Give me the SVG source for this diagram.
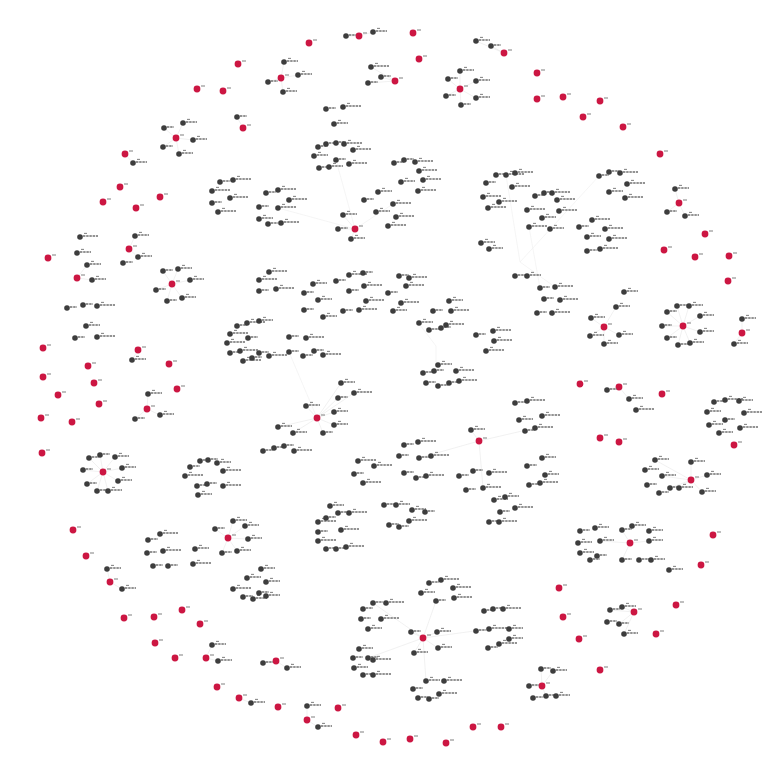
<svg xmlns="http://www.w3.org/2000/svg" xmlns:xlink="http://www.w3.org/1999/xlink" width="768" height="774" viewBox="0 0 768 774">
<style>
.e{stroke:#e8e8e8;stroke-width:0.6;fill:none}
.ef{stroke:#efefef;stroke-width:0.6;fill:none}
.gd{fill:#3c3c3c}
.rd{fill:#cc1443}
.lb{stroke:#707070;stroke-width:1.6;stroke-dasharray:2.4 0.8;fill:none}
.lr{stroke:#8a8a8a;stroke-width:1.1;fill:none}
</style>
<defs>
<filter id="soft" x="-5%" y="-5%" width="110%" height="110%"><feGaussianBlur stdDeviation="0.55"/></filter>
<g id="G1"><circle class="gd" r="2.8"/><path class="lb" d="M3 -1h15"/><path class="lr" d="M4 -3.6h3"/></g>
<g id="G2"><circle class="gd" r="2.8"/><path class="lb" d="M3 -1h11"/><path class="lr" d="M4 -3.6h3"/></g>
<g id="G3"><circle class="gd" r="2.8"/><path class="lb" d="M3 -1h7"/></g>
<g id="R"><circle class="rd" r="3.4"/><path class="lr" d="M4 -3h4"/></g>
</defs>
<rect width="768" height="774" fill="#ffffff"/>
<g filter="url(#soft)">
<g id="connectors">
<path class="e" d="M176 138L164 128M176 138L183 123M176 138L193 140M176 138L163 147M176 138L179 154"/>
<path class="e" d="M460 89L448 79M460 89L460 71M460 89L476 81M460 89L446 96M460 89L476 98M460 89L461 105"/>
<path class="e" d="M281 78L284 62M281 78L298 75M281 78L268 82M281 78L283 92M395 81L371 67M395 81L368 83M395 81L381 77M359 36L346 36M359 36L373 32"/>
<path class="e" d="M355 229L343 215M355 229L338 229M355 229L351 239M504 53L476 41M504 53L491 46M679 203L675 189M679 203L667 212M679 203L685 216"/>
<path class="e" d="M172 284L163 271M172 284L178 269M172 284L190 280M172 284L156 290M172 284L167 301M172 284L182 298M77 278L92 280M77 278L87 265"/>
<path class="e" d="M103 472L89 458M103 472L100 455M103 472L115 457M103 472L83 470M103 472L122 468M103 472L87 484M103 472L118 481M103 472L97 491M103 472L108 491"/>
<path class="e" d="M147 409L148 394M147 409L160 415M147 409L135 419M138 350L132 360"/>
<path class="e" d="M317 418L341 383M317 418L338 398M317 418L354 393M317 418L306 406M317 418L334 412M317 418L334 425M317 418L323 433M317 418L293 433M317 418L278 427"/>
<path class="e" d="M479 441L471 430M479 441L419 458M479 441L483 488M479 441L535 428"/>
<path class="e" d="M604 327L591 318M604 327L590 336M604 327L619 335M604 327L604 344M604 327L616 307"/>
<path class="e" d="M683 326L667 312M683 326L677 306M683 326L689 306M683 326L700 316M683 326L662 326M683 326L700 332M683 326L667 338M683 326L678 345M683 326L690 343M742 333L742 319M742 333L734 344"/>
<path class="e" d="M619 387L607 390M619 387L629 399M691 480L655 460M691 480L691 462M691 480L707 475M691 480L702 492M691 480L679 488M691 480L670 488M691 480L662 476"/>
<path class="e" d="M228 538L215 529M228 538L233 521M228 538L245 526M228 538L222 553M228 538L237 551M228 538L248 539M110 582L107 569M110 582L122 589"/>
<path class="e" d="M206 658L212 645M206 658L218 661M239 698L251 703M276 661L263 663M276 661L287 668M307 720L307 706M307 720L318 727"/>
<path class="e" d="M423 638L411 632M423 638L437 632M423 638L414 653M423 638L438 648M423 638L373 603M423 638L368 658M423 638L436 601M423 638L489 629M423 638L426 681"/>
<path class="e" d="M630 543L600 541M630 543L622 530M630 543L649 541M630 543L622 560M634 612L610 610M634 612L622 607M634 612L619 624M634 612L624 634M542 686L541 669M542 686L553 671M542 686L529 686M542 686L546 696"/>
<path class="e" d="M243 128L237 117M129 249L135 236M129 249L138 257M125 154L133 163"/>
<path class="ef" d="M355 229L336 160M355 229L393 204M355 229L278 208M436 346L436 365M529 227L540 288M506 175L520 262M520 262L599 176M520 262L555 287M420 325L436 346M317 418L289 352"/>
</g>
<g id="hubs">
<g id="r1" transform="translate(238 64)"><use href="#R"/></g>
<g id="r2" transform="translate(197 89)"><use href="#R"/></g>
<g id="r3" transform="translate(223 91)"><use href="#R"/></g>
<g id="r4" transform="translate(243 128)"><use href="#R"/></g>
<g id="r5" transform="translate(176 138)"><use href="#R"/></g>
<g id="r6" transform="translate(125 154)"><use href="#R"/></g>
<g id="r7" transform="translate(120 187)"><use href="#R"/></g>
<g id="r8" transform="translate(103 202)"><use href="#R"/></g>
<g id="r9" transform="translate(136 208)"><use href="#R"/></g>
<g id="r10" transform="translate(160 197)"><use href="#R"/></g>
<g id="r11" transform="translate(129 249)"><use href="#R"/></g>
<g id="r12" transform="translate(48 258)"><use href="#R"/></g>
<g id="r13" transform="translate(309 43)"><use href="#R"/></g>
<g id="r14" transform="translate(359 36)"><use href="#R"/></g>
<g id="r15" transform="translate(413 33)"><use href="#R"/></g>
<g id="r16" transform="translate(419 59)"><use href="#R"/></g>
<g id="r17" transform="translate(395 81)"><use href="#R"/></g>
<g id="r18" transform="translate(281 78)"><use href="#R"/></g>
<g id="r19" transform="translate(504 53)"><use href="#R"/></g>
<g id="r20" transform="translate(460 89)"><use href="#R"/></g>
<g id="r21" transform="translate(355 229)"><use href="#R"/></g>
<g id="r22" transform="translate(537 73)"><use href="#R"/></g>
<g id="r23" transform="translate(537 99)"><use href="#R"/></g>
<g id="r24" transform="translate(563 97)"><use href="#R"/></g>
<g id="r25" transform="translate(600 101)"><use href="#R"/></g>
<g id="r26" transform="translate(583 117)"><use href="#R"/></g>
<g id="r27" transform="translate(623 127)"><use href="#R"/></g>
<g id="r28" transform="translate(660 154)"><use href="#R"/></g>
<g id="r29" transform="translate(679 203)"><use href="#R"/></g>
<g id="r30" transform="translate(705 234)"><use href="#R"/></g>
<g id="r31" transform="translate(664 250)"><use href="#R"/></g>
<g id="r32" transform="translate(695 257)"><use href="#R"/></g>
<g id="r33" transform="translate(729 256)"><use href="#R"/></g>
<g id="r34" transform="translate(77 278)"><use href="#R"/></g>
<g id="r35" transform="translate(172 284)"><use href="#R"/></g>
<g id="r36" transform="translate(43 348)"><use href="#R"/></g>
<g id="r37" transform="translate(138 350)"><use href="#R"/></g>
<g id="r38" transform="translate(88 366)"><use href="#R"/></g>
<g id="r39" transform="translate(169 364)"><use href="#R"/></g>
<g id="r40" transform="translate(43 377)"><use href="#R"/></g>
<g id="r41" transform="translate(94 383)"><use href="#R"/></g>
<g id="r42" transform="translate(177 389)"><use href="#R"/></g>
<g id="r43" transform="translate(58 395)"><use href="#R"/></g>
<g id="r44" transform="translate(99 404)"><use href="#R"/></g>
<g id="r45" transform="translate(147 409)"><use href="#R"/></g>
<g id="r46" transform="translate(41 418)"><use href="#R"/></g>
<g id="r47" transform="translate(72 422)"><use href="#R"/></g>
<g id="r48" transform="translate(42 453)"><use href="#R"/></g>
<g id="r49" transform="translate(103 472)"><use href="#R"/></g>
<g id="r50" transform="translate(317 418)"><use href="#R"/></g>
<g id="r51" transform="translate(479 441)"><use href="#R"/></g>
<g id="r52" transform="translate(728 281)"><use href="#R"/></g>
<g id="r53" transform="translate(604 327)"><use href="#R"/></g>
<g id="r54" transform="translate(683 326)"><use href="#R"/></g>
<g id="r55" transform="translate(742 333)"><use href="#R"/></g>
<g id="r56" transform="translate(580 384)"><use href="#R"/></g>
<g id="r57" transform="translate(619 387)"><use href="#R"/></g>
<g id="r58" transform="translate(662 394)"><use href="#R"/></g>
<g id="r59" transform="translate(600 438)"><use href="#R"/></g>
<g id="r60" transform="translate(619 442)"><use href="#R"/></g>
<g id="r61" transform="translate(734 445)"><use href="#R"/></g>
<g id="r62" transform="translate(691 480)"><use href="#R"/></g>
<g id="r63" transform="translate(73 530)"><use href="#R"/></g>
<g id="r64" transform="translate(86 556)"><use href="#R"/></g>
<g id="r65" transform="translate(110 582)"><use href="#R"/></g>
<g id="r66" transform="translate(124 618)"><use href="#R"/></g>
<g id="r67" transform="translate(154 617)"><use href="#R"/></g>
<g id="r68" transform="translate(182 610)"><use href="#R"/></g>
<g id="r69" transform="translate(200 624)"><use href="#R"/></g>
<g id="r70" transform="translate(155 643)"><use href="#R"/></g>
<g id="r71" transform="translate(175 658)"><use href="#R"/></g>
<g id="r72" transform="translate(206 658)"><use href="#R"/></g>
<g id="r73" transform="translate(217 687)"><use href="#R"/></g>
<g id="r74" transform="translate(239 698)"><use href="#R"/></g>
<g id="r75" transform="translate(228 538)"><use href="#R"/></g>
<g id="r76" transform="translate(276 661)"><use href="#R"/></g>
<g id="r77" transform="translate(423 638)"><use href="#R"/></g>
<g id="r78" transform="translate(278 707)"><use href="#R"/></g>
<g id="r79" transform="translate(307 720)"><use href="#R"/></g>
<g id="r80" transform="translate(338 708)"><use href="#R"/></g>
<g id="r81" transform="translate(356 735)"><use href="#R"/></g>
<g id="r82" transform="translate(383 742)"><use href="#R"/></g>
<g id="r83" transform="translate(410 739)"><use href="#R"/></g>
<g id="r84" transform="translate(446 743)"><use href="#R"/></g>
<g id="r85" transform="translate(473 727)"><use href="#R"/></g>
<g id="r86" transform="translate(501 727)"><use href="#R"/></g>
<g id="r87" transform="translate(559 588)"><use href="#R"/></g>
<g id="r88" transform="translate(563 617)"><use href="#R"/></g>
<g id="r89" transform="translate(579 639)"><use href="#R"/></g>
<g id="r90" transform="translate(634 612)"><use href="#R"/></g>
<g id="r91" transform="translate(656 634)"><use href="#R"/></g>
<g id="r92" transform="translate(676 605)"><use href="#R"/></g>
<g id="r93" transform="translate(701 565)"><use href="#R"/></g>
<g id="r94" transform="translate(713 535)"><use href="#R"/></g>
<g id="r95" transform="translate(630 543)"><use href="#R"/></g>
<g id="r96" transform="translate(600 670)"><use href="#R"/></g>
<g id="r97" transform="translate(542 686)"><use href="#R"/></g>
</g>
<g id="leaves">
<g id="n1" transform="translate(237 117)"><use href="#G3"/></g>
<g id="n2" transform="translate(164 128)"><use href="#G3"/></g>
<g id="n3" transform="translate(183 123)"><use href="#G2"/></g>
<g id="n4" transform="translate(193 140)"><use href="#G2"/></g>
<g id="n5" transform="translate(163 147)"><use href="#G3"/></g>
<g id="n6" transform="translate(179 154)"><use href="#G2"/></g>
<g id="n7" transform="translate(133 163)"><use href="#G2"/></g>
<g id="n8" transform="translate(220 182)"><use href="#G3"/></g>
<g id="n9" transform="translate(233 180)"><use href="#G1"/></g>
<g id="n10" transform="translate(212 191)"><use href="#G1"/></g>
<g id="n11" transform="translate(212 203)"><use href="#G3"/></g>
<g id="n12" transform="translate(230 198)"><use href="#G1"/></g>
<g id="n13" transform="translate(218 212)"><use href="#G1"/></g>
<g id="n14" transform="translate(80 237)"><use href="#G1"/></g>
<g id="n15" transform="translate(135 236)"><use href="#G2"/></g>
<g id="n16" transform="translate(77 253)"><use href="#G2"/></g>
<g id="n17" transform="translate(138 257)"><use href="#G2"/></g>
<g id="n18" transform="translate(346 36)"><use href="#G3"/></g>
<g id="n19" transform="translate(373 32)"><use href="#G2"/></g>
<g id="n20" transform="translate(284 62)"><use href="#G2"/></g>
<g id="n21" transform="translate(298 75)"><use href="#G2"/></g>
<g id="n22" transform="translate(268 82)"><use href="#G3"/></g>
<g id="n23" transform="translate(283 92)"><use href="#G2"/></g>
<g id="n24" transform="translate(371 67)"><use href="#G1"/></g>
<g id="n25" transform="translate(368 83)"><use href="#G3"/></g>
<g id="n26" transform="translate(381 77)"><use href="#G3"/></g>
<g id="n27" transform="translate(476 41)"><use href="#G2"/></g>
<g id="n28" transform="translate(491 46)"><use href="#G3"/></g>
<g id="n29" transform="translate(448 79)"><use href="#G3"/></g>
<g id="n30" transform="translate(460 71)"><use href="#G2"/></g>
<g id="n31" transform="translate(476 81)"><use href="#G2"/></g>
<g id="n32" transform="translate(446 96)"><use href="#G3"/></g>
<g id="n33" transform="translate(476 98)"><use href="#G2"/></g>
<g id="n34" transform="translate(461 105)"><use href="#G3"/></g>
<g id="n35" transform="translate(326 109)"><use href="#G3"/></g>
<g id="n36" transform="translate(343 107)"><use href="#G1"/></g>
<g id="n37" transform="translate(334 124)"><use href="#G2"/></g>
<g id="n38" transform="translate(318 147)"><use href="#G3"/></g>
<g id="n39" transform="translate(326 144)"><use href="#G3"/></g>
<g id="n40" transform="translate(336 143)"><use href="#G3"/></g>
<g id="n41" transform="translate(344 144)"><use href="#G1"/></g>
<g id="n42" transform="translate(353 150)"><use href="#G1"/></g>
<g id="n43" transform="translate(314 156)"><use href="#G2"/></g>
<g id="n44" transform="translate(336 160)"><use href="#G3"/></g>
<g id="n45" transform="translate(319 168)"><use href="#G3"/></g>
<g id="n46" transform="translate(329 167)"><use href="#G2"/></g>
<g id="n47" transform="translate(349 164)"><use href="#G1"/></g>
<g id="n48" transform="translate(394 163)"><use href="#G3"/></g>
<g id="n49" transform="translate(404 160)"><use href="#G3"/></g>
<g id="n50" transform="translate(415 162)"><use href="#G1"/></g>
<g id="n51" transform="translate(419 171)"><use href="#G1"/></g>
<g id="n52" transform="translate(401 182)"><use href="#G2"/></g>
<g id="n53" transform="translate(423 180)"><use href="#G1"/></g>
<g id="n54" transform="translate(418 191)"><use href="#G1"/></g>
<g id="n55" transform="translate(378 192)"><use href="#G2"/></g>
<g id="n56" transform="translate(364 200)"><use href="#G3"/></g>
<g id="n57" transform="translate(393 204)"><use href="#G1"/></g>
<g id="n58" transform="translate(376 212)"><use href="#G2"/></g>
<g id="n59" transform="translate(396 217)"><use href="#G1"/></g>
<g id="n60" transform="translate(388 226)"><use href="#G1"/></g>
<g id="n61" transform="translate(343 215)"><use href="#G2"/></g>
<g id="n62" transform="translate(338 229)"><use href="#G3"/></g>
<g id="n63" transform="translate(351 239)"><use href="#G2"/></g>
<g id="n64" transform="translate(266 193)"><use href="#G3"/></g>
<g id="n65" transform="translate(278 190)"><use href="#G1"/></g>
<g id="n66" transform="translate(289 200)"><use href="#G1"/></g>
<g id="n67" transform="translate(259 207)"><use href="#G3"/></g>
<g id="n68" transform="translate(278 208)"><use href="#G1"/></g>
<g id="n69" transform="translate(259 219)"><use href="#G2"/></g>
<g id="n70" transform="translate(268 224)"><use href="#G3"/></g>
<g id="n71" transform="translate(281 223)"><use href="#G1"/></g>
<g id="n72" transform="translate(486 183)"><use href="#G3"/></g>
<g id="n73" transform="translate(496 175)"><use href="#G3"/></g>
<g id="n74" transform="translate(506 175)"><use href="#G1"/></g>
<g id="n75" transform="translate(483 197)"><use href="#G1"/></g>
<g id="n76" transform="translate(499 202)"><use href="#G1"/></g>
<g id="n77" transform="translate(488 208)"><use href="#G1"/></g>
<g id="n78" transform="translate(481 243)"><use href="#G2"/></g>
<g id="n79" transform="translate(489 249)"><use href="#G2"/></g>
<g id="n80" transform="translate(675 189)"><use href="#G2"/></g>
<g id="n81" transform="translate(667 212)"><use href="#G3"/></g>
<g id="n82" transform="translate(685 216)"><use href="#G2"/></g>
<g id="n83" transform="translate(515 173)"><use href="#G1"/></g>
<g id="n84" transform="translate(512 187)"><use href="#G1"/></g>
<g id="n85" transform="translate(535 196)"><use href="#G3"/></g>
<g id="n86" transform="translate(544 193)"><use href="#G3"/></g>
<g id="n87" transform="translate(552 193)"><use href="#G1"/></g>
<g id="n88" transform="translate(557 200)"><use href="#G1"/></g>
<g id="n89" transform="translate(527 210)"><use href="#G1"/></g>
<g id="n90" transform="translate(559 211)"><use href="#G1"/></g>
<g id="n91" transform="translate(542 218)"><use href="#G2"/></g>
<g id="n92" transform="translate(529 227)"><use href="#G1"/></g>
<g id="n93" transform="translate(550 229)"><use href="#G2"/></g>
<g id="n94" transform="translate(579 227)"><use href="#G3"/></g>
<g id="n95" transform="translate(592 220)"><use href="#G1"/></g>
<g id="n96" transform="translate(605 229)"><use href="#G1"/></g>
<g id="n97" transform="translate(587 237)"><use href="#G2"/></g>
<g id="n98" transform="translate(609 239)"><use href="#G1"/></g>
<g id="n99" transform="translate(587 251)"><use href="#G3"/></g>
<g id="n100" transform="translate(600 249)"><use href="#G1"/></g>
<g id="n101" transform="translate(599 176)"><use href="#G3"/></g>
<g id="n102" transform="translate(609 172)"><use href="#G3"/></g>
<g id="n103" transform="translate(620 173)"><use href="#G1"/></g>
<g id="n104" transform="translate(627 184)"><use href="#G1"/></g>
<g id="n105" transform="translate(609 192)"><use href="#G2"/></g>
<g id="n106" transform="translate(625 198)"><use href="#G1"/></g>
<g id="n107" transform="translate(87 265)"><use href="#G2"/></g>
<g id="n108" transform="translate(123 263)"><use href="#G3"/></g>
<g id="n109" transform="translate(92 280)"><use href="#G2"/></g>
<g id="n110" transform="translate(163 271)"><use href="#G3"/></g>
<g id="n111" transform="translate(178 269)"><use href="#G2"/></g>
<g id="n112" transform="translate(190 280)"><use href="#G2"/></g>
<g id="n113" transform="translate(156 290)"><use href="#G3"/></g>
<g id="n114" transform="translate(167 301)"><use href="#G3"/></g>
<g id="n115" transform="translate(182 298)"><use href="#G2"/></g>
<g id="n116" transform="translate(67 308)"><use href="#G3"/></g>
<g id="n117" transform="translate(83 305)"><use href="#G3"/></g>
<g id="n118" transform="translate(97 306)"><use href="#G1"/></g>
<g id="n119" transform="translate(86 326)"><use href="#G2"/></g>
<g id="n120" transform="translate(75 338)"><use href="#G3"/></g>
<g id="n121" transform="translate(97 337)"><use href="#G1"/></g>
<g id="n122" transform="translate(132 360)"><use href="#G2"/></g>
<g id="n123" transform="translate(148 394)"><use href="#G2"/></g>
<g id="n124" transform="translate(160 415)"><use href="#G2"/></g>
<g id="n125" transform="translate(135 419)"><use href="#G3"/></g>
<g id="n126" transform="translate(89 458)"><use href="#G3"/></g>
<g id="n127" transform="translate(100 455)"><use href="#G3"/></g>
<g id="n128" transform="translate(115 457)"><use href="#G2"/></g>
<g id="n129" transform="translate(83 470)"><use href="#G3"/></g>
<g id="n130" transform="translate(122 468)"><use href="#G2"/></g>
<g id="n131" transform="translate(87 484)"><use href="#G3"/></g>
<g id="n132" transform="translate(118 481)"><use href="#G2"/></g>
<g id="n133" transform="translate(97 491)"><use href="#G3"/></g>
<g id="n134" transform="translate(108 491)"><use href="#G2"/></g>
<g id="n135" transform="translate(190 467)"><use href="#G3"/></g>
<g id="n136" transform="translate(200 461)"><use href="#G3"/></g>
<g id="n137" transform="translate(208 460)"><use href="#G3"/></g>
<g id="n138" transform="translate(217 463)"><use href="#G2"/></g>
<g id="n139" transform="translate(185 476)"><use href="#G1"/></g>
<g id="n140" transform="translate(223 471)"><use href="#G1"/></g>
<g id="n141" transform="translate(197 486)"><use href="#G3"/></g>
<g id="n142" transform="translate(207 484)"><use href="#G3"/></g>
<g id="n143" transform="translate(223 486)"><use href="#G1"/></g>
<g id="n144" transform="translate(198 495)"><use href="#G2"/></g>
<g id="n145" transform="translate(237 326)"><use href="#G3"/></g>
<g id="n146" transform="translate(247 323)"><use href="#G1"/></g>
<g id="n147" transform="translate(230 334)"><use href="#G1"/></g>
<g id="n148" transform="translate(248 338)"><use href="#G3"/></g>
<g id="n149" transform="translate(227 343)"><use href="#G1"/></g>
<g id="n150" transform="translate(230 353)"><use href="#G3"/></g>
<g id="n151" transform="translate(240 351)"><use href="#G1"/></g>
<g id="n152" transform="translate(243 361)"><use href="#G1"/></g>
<g id="n153" transform="translate(252 358)"><use href="#G3"/></g>
<g id="n154" transform="translate(269 272)"><use href="#G1"/></g>
<g id="n155" transform="translate(259 280)"><use href="#G1"/></g>
<g id="n156" transform="translate(276 289)"><use href="#G1"/></g>
<g id="n157" transform="translate(259 291)"><use href="#G3"/></g>
<g id="n158" transform="translate(313 284)"><use href="#G2"/></g>
<g id="n159" transform="translate(336 281)"><use href="#G3"/></g>
<g id="n160" transform="translate(349 275)"><use href="#G1"/></g>
<g id="n161" transform="translate(363 273)"><use href="#G3"/></g>
<g id="n162" transform="translate(364 286)"><use href="#G1"/></g>
<g id="n163" transform="translate(349 291)"><use href="#G3"/></g>
<g id="n164" transform="translate(318 300)"><use href="#G2"/></g>
<g id="n165" transform="translate(304 293)"><use href="#G3"/></g>
<g id="n166" transform="translate(304 310)"><use href="#G3"/></g>
<g id="n167" transform="translate(323 317)"><use href="#G2"/></g>
<g id="n168" transform="translate(343 311)"><use href="#G3"/></g>
<g id="n169" transform="translate(359 310)"><use href="#G1"/></g>
<g id="n170" transform="translate(366 301)"><use href="#G1"/></g>
<g id="n171" transform="translate(388 293)"><use href="#G3"/></g>
<g id="n172" transform="translate(399 276)"><use href="#G3"/></g>
<g id="n173" transform="translate(409 278)"><use href="#G1"/></g>
<g id="n174" transform="translate(406 286)"><use href="#G1"/></g>
<g id="n175" transform="translate(401 303)"><use href="#G1"/></g>
<g id="n176" transform="translate(393 311)"><use href="#G2"/></g>
<g id="n177" transform="translate(433 311)"><use href="#G3"/></g>
<g id="n178" transform="translate(449 301)"><use href="#G2"/></g>
<g id="n179" transform="translate(451 311)"><use href="#G1"/></g>
<g id="n180" transform="translate(419 323)"><use href="#G2"/></g>
<g id="n181" transform="translate(429 330)"><use href="#G3"/></g>
<g id="n182" transform="translate(441 328)"><use href="#G3"/></g>
<g id="n183" transform="translate(446 325)"><use href="#G1"/></g>
<g id="n184" transform="translate(476 335)"><use href="#G3"/></g>
<g id="n185" transform="translate(493 331)"><use href="#G1"/></g>
<g id="n186" transform="translate(494 341)"><use href="#G1"/></g>
<g id="n187" transform="translate(486 351)"><use href="#G1"/></g>
<g id="n188" transform="translate(259 321)"><use href="#G2"/></g>
<g id="n189" transform="translate(289 337)"><use href="#G3"/></g>
<g id="n190" transform="translate(306 338)"><use href="#G1"/></g>
<g id="n191" transform="translate(259 353)"><use href="#G3"/></g>
<g id="n192" transform="translate(269 356)"><use href="#G1"/></g>
<g id="n193" transform="translate(289 352)"><use href="#G3"/></g>
<g id="n194" transform="translate(303 356)"><use href="#G3"/></g>
<g id="n195" transform="translate(314 351)"><use href="#G3"/></g>
<g id="n196" transform="translate(323 355)"><use href="#G1"/></g>
<g id="n197" transform="translate(438 365)"><use href="#G2"/></g>
<g id="n198" transform="translate(423 373)"><use href="#G3"/></g>
<g id="n199" transform="translate(434 371)"><use href="#G3"/></g>
<g id="n200" transform="translate(456 371)"><use href="#G1"/></g>
<g id="n201" transform="translate(426 383)"><use href="#G3"/></g>
<g id="n202" transform="translate(438 386)"><use href="#G3"/></g>
<g id="n203" transform="translate(449 383)"><use href="#G3"/></g>
<g id="n204" transform="translate(459 381)"><use href="#G1"/></g>
<g id="n205" transform="translate(341 383)"><use href="#G2"/></g>
<g id="n206" transform="translate(338 398)"><use href="#G3"/></g>
<g id="n207" transform="translate(354 393)"><use href="#G1"/></g>
<g id="n208" transform="translate(306 406)"><use href="#G2"/></g>
<g id="n209" transform="translate(334 412)"><use href="#G2"/></g>
<g id="n210" transform="translate(334 425)"><use href="#G2"/></g>
<g id="n211" transform="translate(323 433)"><use href="#G3"/></g>
<g id="n212" transform="translate(278 427)"><use href="#G2"/></g>
<g id="n213" transform="translate(293 433)"><use href="#G2"/></g>
<g id="n214" transform="translate(263 451)"><use href="#G3"/></g>
<g id="n215" transform="translate(274 448)"><use href="#G3"/></g>
<g id="n216" transform="translate(284 446)"><use href="#G3"/></g>
<g id="n217" transform="translate(294 451)"><use href="#G1"/></g>
<g id="n218" transform="translate(471 430)"><use href="#G2"/></g>
<g id="n219" transform="translate(404 445)"><use href="#G3"/></g>
<g id="n220" transform="translate(418 442)"><use href="#G1"/></g>
<g id="n221" transform="translate(399 456)"><use href="#G3"/></g>
<g id="n222" transform="translate(419 458)"><use href="#G3"/></g>
<g id="n223" transform="translate(431 456)"><use href="#G1"/></g>
<g id="n224" transform="translate(358 461)"><use href="#G1"/></g>
<g id="n225" transform="translate(374 466)"><use href="#G1"/></g>
<g id="n226" transform="translate(354 474)"><use href="#G3"/></g>
<g id="n227" transform="translate(363 483)"><use href="#G1"/></g>
<g id="n228" transform="translate(404 473)"><use href="#G3"/></g>
<g id="n229" transform="translate(416 478)"><use href="#G3"/></g>
<g id="n230" transform="translate(426 476)"><use href="#G1"/></g>
<g id="n231" transform="translate(459 476)"><use href="#G3"/></g>
<g id="n232" transform="translate(473 471)"><use href="#G3"/></g>
<g id="n233" transform="translate(489 473)"><use href="#G1"/></g>
<g id="n234" transform="translate(466 490)"><use href="#G3"/></g>
<g id="n235" transform="translate(483 488)"><use href="#G1"/></g>
<g id="n236" transform="translate(494 500)"><use href="#G2"/></g>
<g id="n237" transform="translate(384 505)"><use href="#G3"/></g>
<g id="n238" transform="translate(396 505)"><use href="#G2"/></g>
<g id="n239" transform="translate(338 513)"><use href="#G3"/></g>
<g id="n240" transform="translate(349 513)"><use href="#G1"/></g>
<g id="n241" transform="translate(515 276)"><use href="#G3"/></g>
<g id="n242" transform="translate(527 276)"><use href="#G2"/></g>
<g id="n243" transform="translate(540 288)"><use href="#G3"/></g>
<g id="n244" transform="translate(555 287)"><use href="#G1"/></g>
<g id="n245" transform="translate(544 299)"><use href="#G3"/></g>
<g id="n246" transform="translate(560 300)"><use href="#G1"/></g>
<g id="n247" transform="translate(537 313)"><use href="#G3"/></g>
<g id="n248" transform="translate(552 313)"><use href="#G1"/></g>
<g id="n249" transform="translate(624 292)"><use href="#G2"/></g>
<g id="n250" transform="translate(616 307)"><use href="#G2"/></g>
<g id="n251" transform="translate(591 318)"><use href="#G2"/></g>
<g id="n252" transform="translate(590 336)"><use href="#G2"/></g>
<g id="n253" transform="translate(619 335)"><use href="#G2"/></g>
<g id="n254" transform="translate(604 344)"><use href="#G2"/></g>
<g id="n255" transform="translate(667 312)"><use href="#G3"/></g>
<g id="n256" transform="translate(677 306)"><use href="#G3"/></g>
<g id="n257" transform="translate(689 306)"><use href="#G2"/></g>
<g id="n258" transform="translate(700 316)"><use href="#G2"/></g>
<g id="n259" transform="translate(662 326)"><use href="#G3"/></g>
<g id="n260" transform="translate(700 332)"><use href="#G2"/></g>
<g id="n261" transform="translate(667 338)"><use href="#G3"/></g>
<g id="n262" transform="translate(678 345)"><use href="#G3"/></g>
<g id="n263" transform="translate(690 343)"><use href="#G2"/></g>
<g id="n264" transform="translate(742 319)"><use href="#G2"/></g>
<g id="n265" transform="translate(734 344)"><use href="#G2"/></g>
<g id="n266" transform="translate(607 390)"><use href="#G3"/></g>
<g id="n267" transform="translate(629 399)"><use href="#G2"/></g>
<g id="n268" transform="translate(636 410)"><use href="#G1"/></g>
<g id="n269" transform="translate(714 402)"><use href="#G3"/></g>
<g id="n270" transform="translate(725 400)"><use href="#G1"/></g>
<g id="n271" transform="translate(739 401)"><use href="#G2"/></g>
<g id="n272" transform="translate(707 412)"><use href="#G2"/></g>
<g id="n273" transform="translate(725 420)"><use href="#G3"/></g>
<g id="n274" transform="translate(744 413)"><use href="#G1"/></g>
<g id="n275" transform="translate(709 425)"><use href="#G2"/></g>
<g id="n276" transform="translate(719 433)"><use href="#G2"/></g>
<g id="n277" transform="translate(740 428)"><use href="#G1"/></g>
<g id="n278" transform="translate(515 403)"><use href="#G3"/></g>
<g id="n279" transform="translate(527 401)"><use href="#G1"/></g>
<g id="n280" transform="translate(519 420)"><use href="#G2"/></g>
<g id="n281" transform="translate(542 416)"><use href="#G1"/></g>
<g id="n282" transform="translate(525 431)"><use href="#G3"/></g>
<g id="n283" transform="translate(535 428)"><use href="#G1"/></g>
<g id="n284" transform="translate(542 458)"><use href="#G2"/></g>
<g id="n285" transform="translate(527 466)"><use href="#G3"/></g>
<g id="n286" transform="translate(545 475)"><use href="#G2"/></g>
<g id="n287" transform="translate(529 485)"><use href="#G3"/></g>
<g id="n288" transform="translate(540 483)"><use href="#G1"/></g>
<g id="n289" transform="translate(655 460)"><use href="#G2"/></g>
<g id="n290" transform="translate(645 470)"><use href="#G2"/></g>
<g id="n291" transform="translate(662 476)"><use href="#G2"/></g>
<g id="n292" transform="translate(647 485)"><use href="#G3"/></g>
<g id="n293" transform="translate(659 493)"><use href="#G3"/></g>
<g id="n294" transform="translate(670 488)"><use href="#G3"/></g>
<g id="n295" transform="translate(679 488)"><use href="#G2"/></g>
<g id="n296" transform="translate(691 462)"><use href="#G2"/></g>
<g id="n297" transform="translate(707 475)"><use href="#G2"/></g>
<g id="n298" transform="translate(702 492)"><use href="#G2"/></g>
<g id="n299" transform="translate(107 569)"><use href="#G2"/></g>
<g id="n300" transform="translate(122 589)"><use href="#G2"/></g>
<g id="n301" transform="translate(212 645)"><use href="#G2"/></g>
<g id="n302" transform="translate(218 661)"><use href="#G2"/></g>
<g id="n303" transform="translate(251 703)"><use href="#G2"/></g>
<g id="n304" transform="translate(148 540)"><use href="#G3"/></g>
<g id="n305" transform="translate(160 534)"><use href="#G1"/></g>
<g id="n306" transform="translate(147 553)"><use href="#G3"/></g>
<g id="n307" transform="translate(163 551)"><use href="#G1"/></g>
<g id="n308" transform="translate(195 549)"><use href="#G2"/></g>
<g id="n309" transform="translate(153 566)"><use href="#G3"/></g>
<g id="n310" transform="translate(168 566)"><use href="#G3"/></g>
<g id="n311" transform="translate(193 564)"><use href="#G1"/></g>
<g id="n312" transform="translate(215 529)"><use href="#G3"/></g>
<g id="n313" transform="translate(233 521)"><use href="#G2"/></g>
<g id="n314" transform="translate(245 526)"><use href="#G2"/></g>
<g id="n315" transform="translate(222 553)"><use href="#G3"/></g>
<g id="n316" transform="translate(237 551)"><use href="#G2"/></g>
<g id="n317" transform="translate(248 539)"><use href="#G2"/></g>
<g id="n318" transform="translate(247 578)"><use href="#G2"/></g>
<g id="n319" transform="translate(233 589)"><use href="#G1"/></g>
<g id="n320" transform="translate(243 597)"><use href="#G3"/></g>
<g id="n321" transform="translate(253 599)"><use href="#G2"/></g>
<g id="n322" transform="translate(263 663)"><use href="#G3"/></g>
<g id="n323" transform="translate(287 668)"><use href="#G2"/></g>
<g id="n324" transform="translate(307 706)"><use href="#G2"/></g>
<g id="n325" transform="translate(318 727)"><use href="#G2"/></g>
<g id="n326" transform="translate(318 522)"><use href="#G1"/></g>
<g id="n327" transform="translate(326 518)"><use href="#G3"/></g>
<g id="n328" transform="translate(318 532)"><use href="#G3"/></g>
<g id="n329" transform="translate(341 530)"><use href="#G1"/></g>
<g id="n330" transform="translate(318 541)"><use href="#G1"/></g>
<g id="n331" transform="translate(326 549)"><use href="#G3"/></g>
<g id="n332" transform="translate(336 549)"><use href="#G3"/></g>
<g id="n333" transform="translate(346 547)"><use href="#G1"/></g>
<g id="n334" transform="translate(389 525)"><use href="#G3"/></g>
<g id="n335" transform="translate(399 527)"><use href="#G3"/></g>
<g id="n336" transform="translate(409 521)"><use href="#G1"/></g>
<g id="n337" transform="translate(489 522)"><use href="#G3"/></g>
<g id="n338" transform="translate(499 522)"><use href="#G1"/></g>
<g id="n339" transform="translate(261 569)"><use href="#G2"/></g>
<g id="n340" transform="translate(266 582)"><use href="#G2"/></g>
<g id="n341" transform="translate(259 593)"><use href="#G3"/></g>
<g id="n342" transform="translate(266 596)"><use href="#G2"/></g>
<g id="n343" transform="translate(363 609)"><use href="#G3"/></g>
<g id="n344" transform="translate(373 603)"><use href="#G3"/></g>
<g id="n345" transform="translate(386 603)"><use href="#G1"/></g>
<g id="n346" transform="translate(361 619)"><use href="#G3"/></g>
<g id="n347" transform="translate(381 619)"><use href="#G1"/></g>
<g id="n348" transform="translate(368 629)"><use href="#G2"/></g>
<g id="n349" transform="translate(359 649)"><use href="#G2"/></g>
<g id="n350" transform="translate(353 658)"><use href="#G3"/></g>
<g id="n351" transform="translate(368 658)"><use href="#G3"/></g>
<g id="n352" transform="translate(373 660)"><use href="#G1"/></g>
<g id="n353" transform="translate(354 668)"><use href="#G2"/></g>
<g id="n354" transform="translate(363 675)"><use href="#G3"/></g>
<g id="n355" transform="translate(373 675)"><use href="#G1"/></g>
<g id="n356" transform="translate(411 632)"><use href="#G3"/></g>
<g id="n357" transform="translate(437 632)"><use href="#G2"/></g>
<g id="n358" transform="translate(414 653)"><use href="#G2"/></g>
<g id="n359" transform="translate(438 648)"><use href="#G2"/></g>
<g id="n360" transform="translate(429 583)"><use href="#G3"/></g>
<g id="n361" transform="translate(441 580)"><use href="#G1"/></g>
<g id="n362" transform="translate(453 588)"><use href="#G1"/></g>
<g id="n363" transform="translate(421 593)"><use href="#G2"/></g>
<g id="n364" transform="translate(436 601)"><use href="#G3"/></g>
<g id="n365" transform="translate(454 598)"><use href="#G1"/></g>
<g id="n366" transform="translate(484 611)"><use href="#G3"/></g>
<g id="n367" transform="translate(493 609)"><use href="#G3"/></g>
<g id="n368" transform="translate(503 609)"><use href="#G1"/></g>
<g id="n369" transform="translate(476 631)"><use href="#G3"/></g>
<g id="n370" transform="translate(489 629)"><use href="#G1"/></g>
<g id="n371" transform="translate(509 629)"><use href="#G2"/></g>
<g id="n372" transform="translate(488 648)"><use href="#G3"/></g>
<g id="n373" transform="translate(499 644)"><use href="#G1"/></g>
<g id="n374" transform="translate(509 639)"><use href="#G2"/></g>
<g id="n375" transform="translate(413 689)"><use href="#G3"/></g>
<g id="n376" transform="translate(426 681)"><use href="#G2"/></g>
<g id="n377" transform="translate(444 681)"><use href="#G1"/></g>
<g id="n378" transform="translate(418 698)"><use href="#G3"/></g>
<g id="n379" transform="translate(429 699)"><use href="#G3"/></g>
<g id="n380" transform="translate(439 694)"><use href="#G1"/></g>
<g id="n381" transform="translate(580 531)"><use href="#G3"/></g>
<g id="n382" transform="translate(595 528)"><use href="#G2"/></g>
<g id="n383" transform="translate(622 530)"><use href="#G3"/></g>
<g id="n384" transform="translate(632 526)"><use href="#G2"/></g>
<g id="n385" transform="translate(649 531)"><use href="#G2"/></g>
<g id="n386" transform="translate(578 543)"><use href="#G2"/></g>
<g id="n387" transform="translate(600 541)"><use href="#G2"/></g>
<g id="n388" transform="translate(649 541)"><use href="#G2"/></g>
<g id="n389" transform="translate(580 553)"><use href="#G2"/></g>
<g id="n390" transform="translate(597 556)"><use href="#G3"/></g>
<g id="n391" transform="translate(622 560)"><use href="#G3"/></g>
<g id="n392" transform="translate(639 560)"><use href="#G3"/></g>
<g id="n393" transform="translate(651 560)"><use href="#G2"/></g>
<g id="n394" transform="translate(669 570)"><use href="#G2"/></g>
<g id="n395" transform="translate(590 560)"><use href="#G3"/></g>
<g id="n396" transform="translate(610 610)"><use href="#G3"/></g>
<g id="n397" transform="translate(622 607)"><use href="#G2"/></g>
<g id="n398" transform="translate(607 622)"><use href="#G3"/></g>
<g id="n399" transform="translate(619 624)"><use href="#G3"/></g>
<g id="n400" transform="translate(624 634)"><use href="#G2"/></g>
<g id="n401" transform="translate(541 669)"><use href="#G3"/></g>
<g id="n402" transform="translate(553 671)"><use href="#G2"/></g>
<g id="n403" transform="translate(529 686)"><use href="#G3"/></g>
<g id="n404" transform="translate(546 696)"><use href="#G3"/></g>
<g id="n405" transform="translate(556 696)"><use href="#G2"/></g>
<g id="n406" transform="translate(533 698)"><use href="#G3"/></g>
<g id="n407" transform="translate(505 497)"><use href="#G2"/></g>
<g id="n408" transform="translate(515 508)"><use href="#G1"/></g>
<g id="n409" transform="translate(500 512)"><use href="#G3"/></g>
<g id="n410" transform="translate(330 506)"><use href="#G2"/></g>
<g id="n411" transform="translate(412 510)"><use href="#G2"/></g>
<g id="n412" transform="translate(425 512)"><use href="#G3"/></g>
</g>
</g>
</svg>
